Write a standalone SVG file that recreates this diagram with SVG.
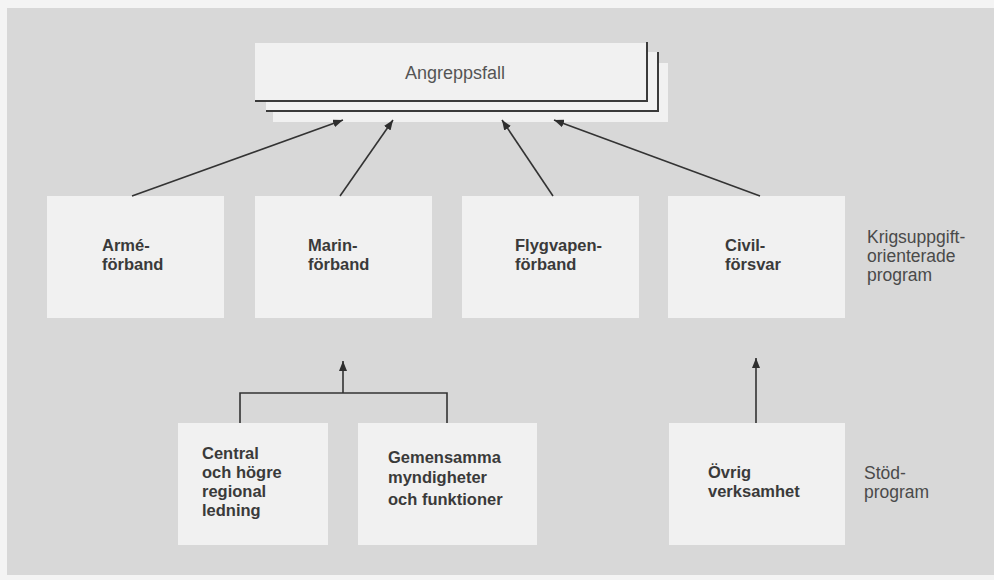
<svg xmlns="http://www.w3.org/2000/svg" width="994" height="580" viewBox="0 0 994 580">
  <defs>
    <marker id="arrow" viewBox="0 0 10 8" refX="10" refY="4" markerWidth="10" markerHeight="8" markerUnits="userSpaceOnUse" orient="auto">
      <path d="M0,0 L10,4 L0,8 Z" fill="#2e2e2e"/>
    </marker>
  </defs>
  <style>
    .box { fill: #f1f1f1; }
    .edge { stroke: #3a3a3a; stroke-width: 2; fill: none; }
    .conn { stroke: #333; stroke-width: 1.6; fill: none; }
    .lbl { font-family: "Liberation Sans", Arial, sans-serif; font-size: 16.5px; font-weight: bold; fill: #3a3a3a; }
    .side { font-family: "Liberation Sans", Arial, sans-serif; font-size: 17.5px; fill: #4a4a4a; }
    .title { font-family: "Liberation Sans", Arial, sans-serif; font-size: 18px; fill: #555; }
  </style>

  <!-- page and grey panel -->
  <rect x="0" y="0" width="994" height="580" fill="#f4f4f4"/>
  <rect x="7" y="8" width="987" height="567" fill="#d8d8d8"/>

  <!-- stacked sheet: Angreppsfall -->
  <g id="angreppsfall">
    <rect class="box" x="273" y="63" width="395" height="59"/>
    <rect class="box" x="266" y="52" width="392" height="59"/>
    <polyline class="edge" points="266,111 658,111 658,52"/>
    <rect class="box" x="255" y="43" width="392" height="58"/>
    <polyline class="edge" points="255,101 647,101 647,42"/>
    <text class="title" x="455" y="79" text-anchor="middle">Angreppsfall</text>
  </g>

  <!-- task-oriented programmes -->
  <g id="arme">
    <rect class="box" x="47" y="196" width="177" height="122"/>
    <text class="lbl" x="102" y="251">Armé-</text>
    <text class="lbl" x="102" y="270">förband</text>
  </g>
  <g id="marin">
    <rect class="box" x="255" y="196" width="177" height="122"/>
    <text class="lbl" x="308" y="251">Marin-</text>
    <text class="lbl" x="308" y="270">förband</text>
  </g>
  <g id="flygvapen">
    <rect class="box" x="462" y="196" width="177" height="122"/>
    <text class="lbl" x="515" y="251">Flygvapen-</text>
    <text class="lbl" x="515" y="270">förband</text>
  </g>
  <g id="civilforsvar">
    <rect class="box" x="668" y="196" width="177" height="122"/>
    <text class="lbl" x="725" y="251">Civil-</text>
    <text class="lbl" x="725" y="270">försvar</text>
  </g>

  <!-- support programmes -->
  <g id="central">
    <rect class="box" x="178" y="423" width="150" height="122"/>
    <text class="lbl" x="202" y="459">Central</text>
    <text class="lbl" x="202" y="478">och högre</text>
    <text class="lbl" x="202" y="497">regional</text>
    <text class="lbl" x="202" y="516">ledning</text>
  </g>
  <g id="gemensamma">
    <rect class="box" x="358" y="423" width="179" height="122"/>
    <text class="lbl" x="388" y="463">Gemensamma</text>
    <text class="lbl" x="388" y="483">myndigheter</text>
    <text class="lbl" x="388" y="505">och funktioner</text>
  </g>
  <g id="ovrig">
    <rect class="box" x="669" y="423" width="176" height="122"/>
    <text class="lbl" x="708" y="478">Övrig</text>
    <text class="lbl" x="708" y="497">verksamhet</text>
  </g>

  <!-- row captions -->
  <g id="caption-krig">
    <text class="side" x="867" y="243">Krigsuppgift-</text>
    <text class="side" x="867" y="262">orienterade</text>
    <text class="side" x="867" y="281">program</text>
  </g>
  <g id="caption-stod">
    <text class="side" x="864" y="479">Stöd-</text>
    <text class="side" x="864" y="498">program</text>
  </g>

  <!-- connectors -->
  <g id="connectors">
    <line class="conn" x1="132" y1="196" x2="343" y2="120" marker-end="url(#arrow)"/>
    <line class="conn" x1="340" y1="196" x2="393" y2="120" marker-end="url(#arrow)"/>
    <line class="conn" x1="553" y1="196" x2="502" y2="120" marker-end="url(#arrow)"/>
    <line class="conn" x1="760" y1="196" x2="554" y2="120" marker-end="url(#arrow)"/>
    <polyline class="conn" points="240,423 240,393 447,393 447,423"/>
    <line class="conn" x1="343" y1="393" x2="343" y2="361" marker-end="url(#arrow)"/>
    <line class="conn" x1="756" y1="423" x2="756" y2="358" marker-end="url(#arrow)"/>
  </g>
</svg>
